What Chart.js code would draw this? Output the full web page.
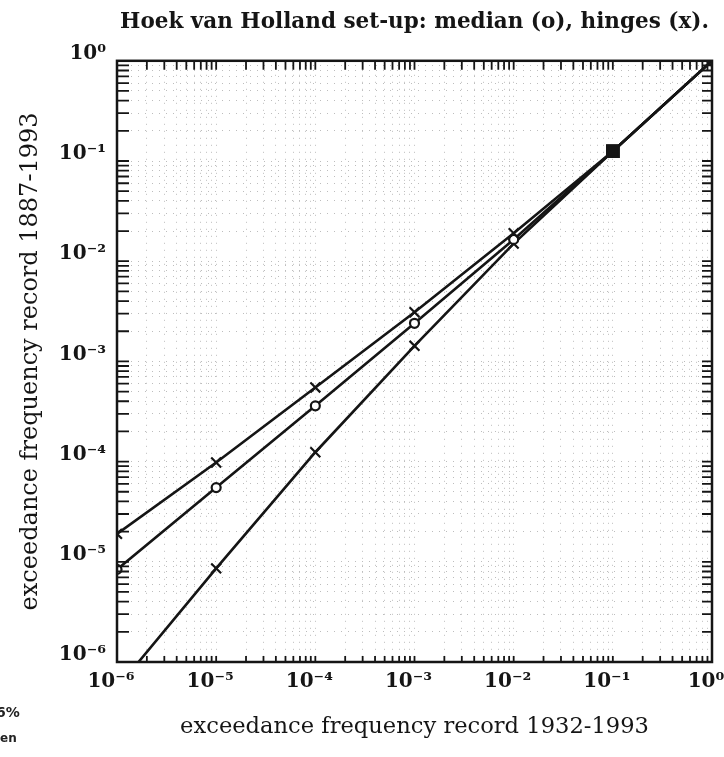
<!DOCTYPE html>
<html>
<head>
<meta charset="utf-8">
<title>Hoek van Holland set-up</title>
<script src="https://cdn.jsdelivr.net/npm/chart.js@4.4.0/dist/chart.umd.min.js"></script>
<style>
    body { margin: 0; background: #fff; }
    #wrap { position: relative; width: 724px; height: 757px; }
    .scrap { position: absolute; font-family: 'DejaVu Sans', sans-serif; font-weight: bold; color: #222; }
</style>
</head>
<body>
<div id="wrap">
    <canvas id="chart"></canvas>
    <div class="scrap" style="left:-4px; top:704px; font-size:14px;">6%</div>
    <div class="scrap" style="left:0px; top:731px; font-size:12px;">en</div>
</div>
<script>
// exceedance frequency, record 1932-1993 (x)
const frequency = [1e-6, 1e-5, 1e-4, 1e-3, 1e-2, 1e-1, 1];
// exceedance frequency, record 1887-1993 (y)
const upperHinge = [1.9e-5, 9.8e-5, 5.5e-4, 3.1e-3, 1.9e-2, 0.125, 1];
const median     = [8.4e-6, 5.5e-5, 3.6e-4, 2.4e-3, 1.65e-2, 0.125, 1];
const lowerHinge = [5.5e-7, 8.6e-6, 1.24e-4, 1.43e-3, 1.5e-2, 0.125, 1];

// axis ticks
const decades = [1e-6, 1e-5, 1e-4, 1e-3, 1e-2, 1e-1, 1];
const minorSteps = [2, 3, 4, 5, 6, 7, 8, 9];

const tickValues = [];
decades.forEach((d, i) => {
    tickValues.push(d);
    if (i < decades.length - 1) {
        minorSteps.forEach(m => tickValues.push(d * m));
    }
});

const SUP = { '-': '\u207B', '0': '\u2070', '1': '\u00B9', '2': '\u00B2', '3': '\u00B3',
    '4': '\u2074', '5': '\u2075', '6': '\u2076', '7': '\u2077', '8': '\u2078', '9': '\u2079' };

function isDecade(v) {
    const l = Math.log10(v);
    return Math.abs(l - Math.round(l)) < 1e-9;
}

function powerLabel(v) {
    if (!isDecade(v)) return '';
    const e = String(Math.round(Math.log10(v)));
    return '10' + e.split('').map(c => SUP[c]).join('');
}

const ink = '#151515';
const serif = "'DejaVu Serif', 'Liberation Serif', serif";

function series(label, values, style) {
    const atBlob = ctx => ctx.raw && ctx.raw.x === 0.1;
    return {
        label: label,
        data: frequency.map((f, i) => ({ x: f, y: values[i] })),
        borderColor: ink,
        borderWidth: 2.6,
        tension: 0,
        pointStyle: ctx => atBlob(ctx) ? 'rect' : style,
        pointRadius: ctx => atBlob(ctx) ? 8 : (style === 'circle' ? 4.5 : 7),
        pointBorderWidth: 2.2,
        pointBorderColor: ink,
        pointBackgroundColor: ctx => atBlob(ctx) ? ink : '#fff'
    };
}

// inward tick marks and the closed frame
const frameTicks = {
    id: 'frameTicks',
    afterDatasetsDraw(chart) {
        const { ctx, chartArea: a, scales: { x, y } } = chart;
        ctx.save();
        ctx.strokeStyle = ink;
        ctx.lineWidth = 1.8;
        ctx.beginPath();
        tickValues.forEach(v => {
            const px = x.getPixelForValue(v);
            ctx.moveTo(px, a.bottom); ctx.lineTo(px, a.bottom - 6);
            ctx.moveTo(px, a.top); ctx.lineTo(px, a.top + 9);
            const py = y.getPixelForValue(v);
            ctx.moveTo(a.left, py); ctx.lineTo(a.left + 12, py);
            ctx.moveTo(a.right, py); ctx.lineTo(a.right - 10, py);
        });
        ctx.stroke();
        ctx.lineWidth = 2.5;
        ctx.strokeRect(a.left, a.top, a.right - a.left, a.bottom - a.top);
        ctx.restore();
    }
};

function logAxis(position) {
    return {
        type: 'logarithmic',
        position: position,
        min: 1e-6,
        max: 1,
        afterBuildTicks: axis => { axis.ticks = tickValues.map(v => ({ value: v })); },
        grid: { color: '#bdbdbd', lineWidth: 1, drawTicks: false },
        border: { display: false, dash: [1, 6] },
        ticks: {
            autoSkip: false,
            maxRotation: 0,
            minRotation: 0,
            color: ink,
            font: { family: serif, size: 20, weight: 'bold' },
            callback: value => powerLabel(value)
        }
    };
}

const xAxis = logAxis('bottom');
xAxis.ticks.padding = 8;
xAxis.ticks.labelOffset = -6;
xAxis.title = {
    display: true,
    text: 'exceedance frequency record 1932-1993',
    color: ink,
    font: { family: serif, size: 22.6 },
    padding: { top: 0, bottom: 16 }
};
xAxis.afterFit = axis => { axis.height = 95; axis.paddingLeft = 0; axis.paddingRight = 0; };

const yAxis = logAxis('left');
yAxis.ticks.padding = 11;
yAxis.ticks.labelOffset = -7;
yAxis.title = {
    display: true,
    text: 'exceedance frequency record 1887-1993',
    color: ink,
    font: { family: serif, size: 24 },
    padding: { top: 16, bottom: 0 }
};
yAxis.afterFit = axis => { axis.width = 117; axis.paddingTop = 0; axis.paddingBottom = 0; };

new Chart(document.getElementById('chart'), {
    type: 'line',
    data: {
        datasets: [
            series('upper hinge', upperHinge, 'crossRot'),
            series('median', median, 'circle'),
            series('lower hinge', lowerHinge, 'crossRot')
        ]
    },
    options: {
        responsive: true,
        maintainAspectRatio: false,
        animation: false,
        layout: { padding: { top: 0, right: 12, bottom: 0, left: 0 } },
        scales: { x: xAxis, y: yAxis },
        plugins: {
            legend: { display: false },
            tooltip: { enabled: false },
            title: {
                display: true,
                fullSize: false,
                text: 'Hoek van Holland set-up: median (o), hinges (x).',
                color: ink,
                font: { family: serif, size: 21.5, weight: 'bold' },
                padding: { top: 10, bottom: 25 }
            }
        }
    },
    plugins: [frameTicks]
});
</script>
</body>
</html>
